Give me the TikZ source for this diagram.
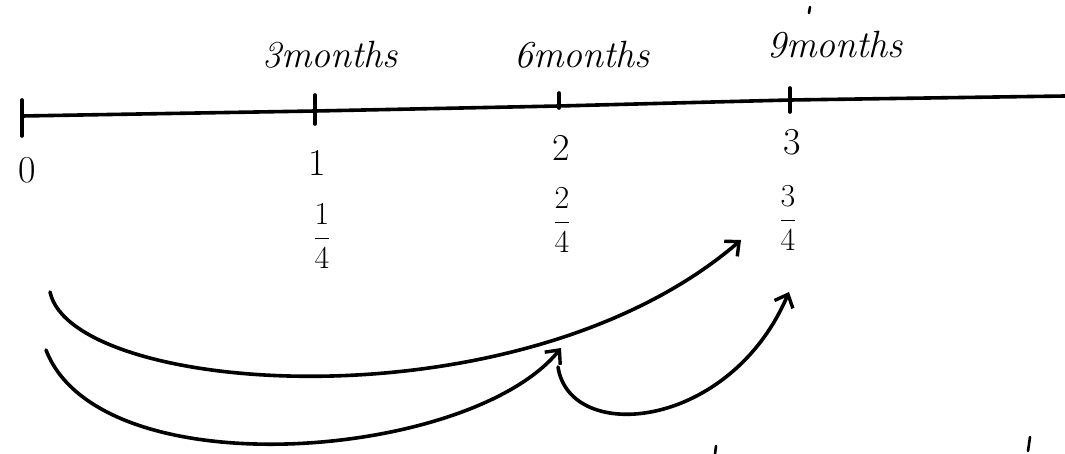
\RequirePackage{fix-cm}
\documentclass[tikz,border=0pt]{standalone}
\usepackage{amsmath}
\usetikzlibrary{arrows.meta, positioning, calc}
\tikzset{
  pen/.style    = {line width=3.6pt, line cap=round, line join=round},
  arc/.style    = {pen, -{Straight Barb[length=11pt, width=20pt, line width=3.4pt]}},
  speck/.style  = {line width=2.6pt, line cap=round},
  month/.style  = {font=\fontsize{38}{44}\selectfont\itshape, inner sep=0pt},
  num/.style    = {font=\fontsize{38}{44}\selectfont, inner sep=0pt},
  frac/.style   = {font=\fontsize{32}{38}\selectfont, inner sep=0pt},
}

\begin{document}
\begin{tikzpicture}[x=1pt, y=-1pt]
  \useasboundingbox (0,0) rectangle (1065,454);

  % time line
  \coordinate (t0) at (22,116);
  \coordinate (t1) at (315,111);
  \coordinate (t2) at (559,106);
  \coordinate (t3) at (790,100);
  \coordinate (tend) at (1065,96);
  \draw[pen] (t0) -- (t1) -- (t2) -- (t3) -- (tend);

  % ticks
  \foreach \i/\up/\dn in {0/16/20, 1/16/13, 2/13/2, 3/12/12} {
    \draw[pen] ($(t\i)+(0,-\up)$) -- ($(t\i)+(0,\dn)$);
  }

  % months above
  \foreach \i/\lbl/\x/\y in {1/3months/330/55, 2/6months/582/55, 3/9months/835/45} {
    \node[month] (m\i) at (\x,\y) {\lbl};
  }

  % counts below
  \foreach \i/\x/\y in {0/27/170, 1/317/163, 2/561/148, 3/792/142} {
    \node[num] (n\i) at (\x,\y) {\i};
  }

  % quarters
  \foreach \i/\x/\y in {1/322/236, 2/562/220, 3/788/218} {
    \node[frac] (f\i) at (\x,\y) {$\dfrac{\i}{4}$};
  }

  % arcs
  \coordinate (a0) at (50,292);
  \coordinate (a1) at (741,240);
  \coordinate (b0) at (46,350);
  \coordinate (b1) at (561,348);
  \coordinate (c0) at (558,367);
  \coordinate (c1) at (789,292);
  \draw[arc] (a0) .. controls (72,395) and (520,430) .. (a1);
  \draw[arc] (b0) .. controls (100,490) and (470,460) .. (b1);
  \draw[arc] (c0) .. controls (570,445) and (730,430) .. (c1);

  % stray pen marks
  \draw[speck] (810,7) -- (809,13);
  \draw[speck] (716,446) -- (715,454);
  \draw[speck] (1030,437) -- (1028,451);
\end{tikzpicture}
\end{document}
